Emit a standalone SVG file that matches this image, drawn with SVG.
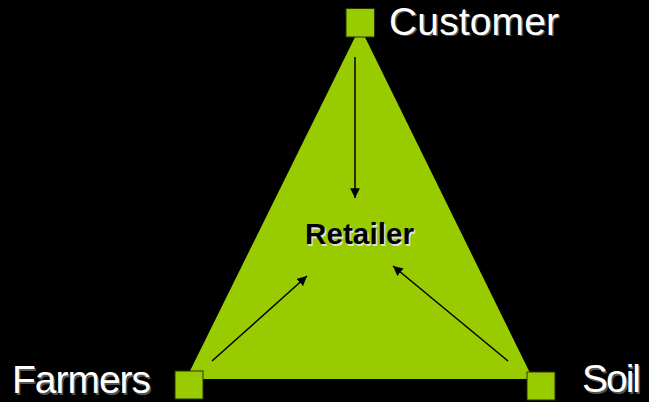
<svg xmlns="http://www.w3.org/2000/svg" width="649" height="402" viewBox="0 0 649 402">
  <style>
    .label { font-family: "Liberation Sans", Arial, sans-serif; font-size: 39px; fill: #ffffff; }
    .label-shadow { font-family: "Liberation Sans", Arial, sans-serif; font-size: 39px; fill: #555555; }
    .center { font-family: "Liberation Sans", Arial, sans-serif; font-size: 29.5px; font-weight: bold; fill: #000000; }
    .center-shadow { font-family: "Liberation Sans", Arial, sans-serif; font-size: 29.5px; font-weight: bold; fill: #e0e0e0; }
    .marker-box { fill: #99cc00; stroke: #2a3300; stroke-width: 1; }
    .connector { stroke: #000000; stroke-width: 1.5; fill: none; marker-end: url(#arrow); }
  </style>
  <defs>
    <marker id="arrow" viewBox="0 0 10 10" refX="10" refY="5" markerWidth="6.5" markerHeight="6.5" markerUnits="strokeWidth" orient="auto">
      <path d="M0,0 L10,5 L0,10 Z" fill="#000000"/>
    </marker>
  </defs>

  <rect width="649" height="402" fill="#000000"/>

  <!-- central triangle -->
  <g id="triangle">
    <polygon points="360,27 533,379 186,379" fill="#99cc00"/>
  </g>

  <!-- arrows pointing to the retailer -->
  <g id="connectors">
    <line class="connector" x1="355" y1="57" x2="355" y2="198"/>
    <line class="connector" x1="212" y1="361" x2="307" y2="276"/>
    <line class="connector" x1="508" y1="361" x2="393" y2="266"/>
  </g>

  <g id="retailer">
    <text class="center-shadow" x="306.5" y="245.5" textLength="109">Retailer</text>
    <text class="center" x="305" y="244" textLength="109">Retailer</text>
  </g>

  <g id="customer">
    <rect class="marker-box" x="346" y="8.5" width="28.5" height="28.5"/>
    <text class="label-shadow" x="390.5" y="36" textLength="170">Customer</text>
    <text class="label" x="389" y="34.5" textLength="170">Customer</text>
  </g>

  <g id="farmers">
    <rect class="marker-box" x="175" y="371" width="28" height="28"/>
    <text class="label-shadow" x="13.5" y="394.5" textLength="139">Farmers</text>
    <text class="label" x="12" y="393" textLength="139">Farmers</text>
  </g>

  <g id="soil">
    <rect class="marker-box" x="527" y="372" width="28" height="28"/>
    <text class="label-shadow" x="583.5" y="393.5" textLength="59">Soil</text>
    <text class="label" x="582" y="392" textLength="59">Soil</text>
  </g>
</svg>
